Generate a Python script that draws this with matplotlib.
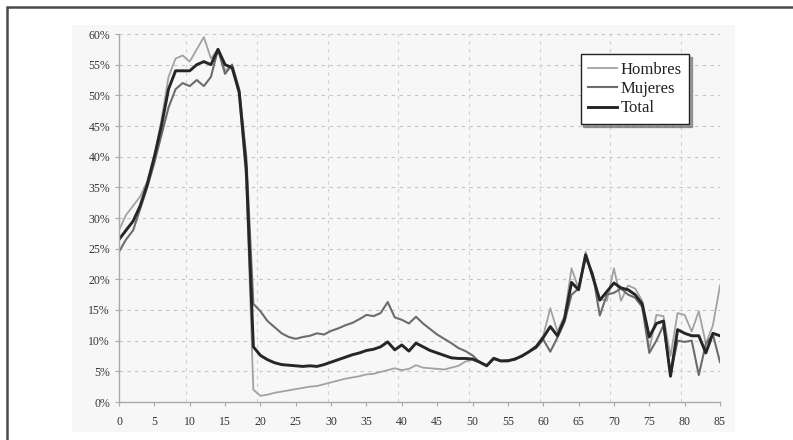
#!/usr/bin/env python3
"""Share by age, Hombres / Mujeres / Total, 0-85 years."""

import matplotlib
import numpy as np

matplotlib.use("Agg")
import matplotlib.pyplot as plt
from matplotlib.patches import Rectangle
from matplotlib.ticker import FuncFormatter, MultipleLocator

ages = list(range(0, 86))

hombres = [
    28.0, 30.5, 32.0, 33.5, 36.0, 40.0, 46.0, 53.0, 56.0, 56.5,
    55.5, 57.5, 59.5, 56.0, 57.5, 54.0, 55.0, 50.0, 36.0, 2.0,
    1.0, 1.2, 1.5, 1.7, 1.9, 2.1, 2.3, 2.5, 2.6, 2.9,
    3.2, 3.5, 3.8, 4.0, 4.2, 4.5, 4.6, 4.9, 5.2, 5.5,
    5.2, 5.4, 6.0, 5.6, 5.5, 5.4, 5.3, 5.6, 5.9, 6.6,
    6.9, 6.6, 6.0, 7.0, 6.6, 6.8, 7.1, 7.4, 8.3, 9.2,
    10.8, 15.3, 11.5, 14.0, 21.8, 18.5, 24.5, 20.0, 16.8, 16.5,
    21.8, 16.5, 19.0, 18.5, 16.5, 8.5, 14.2, 14.0, 7.5, 14.5,
    14.2, 11.5, 14.8, 9.5, 12.5, 19.0,
]

mujeres = [
    24.5, 26.5, 28.0, 31.5, 35.0, 39.0, 43.5, 48.0, 51.0, 52.0,
    51.5, 52.5, 51.5, 53.0, 57.5, 53.5, 55.0, 51.0, 40.0, 16.0,
    14.8, 13.2, 12.2, 11.2, 10.6, 10.3, 10.6, 10.8, 11.2, 11.0,
    11.6, 12.0, 12.5, 12.9, 13.5, 14.2, 14.0, 14.5, 16.3, 13.8,
    13.4, 12.8, 13.9, 12.8, 11.9, 11.0, 10.3, 9.6, 8.8, 8.3,
    7.6, 6.5, 6.0, 7.2, 6.7, 6.8, 6.9, 7.6, 8.2, 8.8,
    10.2, 8.2, 10.5, 13.0, 17.5, 18.5, 23.5, 21.0, 14.1, 17.5,
    17.8, 18.5, 17.5, 17.0, 15.5, 8.0, 10.0, 12.5, 4.5, 10.0,
    9.8, 10.0, 4.4, 9.5, 11.0, 6.5,
]

total = [
    26.5, 28.0, 29.5, 32.0, 35.5, 40.0, 45.0, 51.0, 54.0, 54.0,
    54.0, 55.0, 55.5, 55.0, 57.5, 55.0, 54.5, 50.5, 38.0, 9.0,
    7.6, 6.9, 6.4, 6.1, 6.0, 5.9, 5.8, 5.9, 5.8, 6.1,
    6.5, 6.9, 7.3, 7.7, 8.0, 8.4, 8.6, 9.0, 9.8, 8.5,
    9.3, 8.3, 9.6, 9.0, 8.4, 8.0, 7.6, 7.2, 7.1, 7.1,
    7.0, 6.5, 5.9, 7.1, 6.7, 6.7, 7.0, 7.5, 8.2, 9.0,
    10.5, 12.3, 10.8, 13.5, 19.5, 18.3, 24.0, 20.5, 16.6, 18.0,
    19.4, 18.6, 18.3, 17.5, 16.0, 10.6, 12.8, 13.2, 4.2, 11.8,
    11.2, 10.8, 10.8, 8.0, 11.2, 10.8,
]

series_names = ["Hombres", "Mujeres", "Total"]


def main() -> None:
    plt.rcParams["font.family"] = ["Liberation Serif", "DejaVu Serif"]

    fig = plt.figure(figsize=(7.93, 4.40), dpi=100)
    fig.patch.set_facecolor("white")

    # faint grey chart area and the dark frame of the scan
    fig.add_artist(Rectangle((72 / 793, 8 / 440), (735 - 72) / 793, (415 - 8) / 440,
                             transform=fig.transFigure, facecolor="#f7f7f7",
                             edgecolor="none", zorder=-5))
    fig.add_artist(Rectangle((7 / 793, -0.2), 1.2, (433 / 440) + 0.2,
                             transform=fig.transFigure, fill=False,
                             edgecolor="#4a4a4a", linewidth=1.8, zorder=10))

    ax = fig.add_axes([119 / 793, 38 / 440, (720 - 119) / 793, (406 - 38) / 440])
    ax.set_facecolor("none")

    x = np.array(ages)
    styles = [
        ("#a2a2a2", 1.3),
        ("#6c6c6c", 1.5),
        ("#262626", 2.1),
    ]
    for name, vals, (col, lw) in zip(series_names, [hombres, mujeres, total], styles):
        ax.plot(x, np.array(vals) / 100.0, color=col, linewidth=lw, label=name,
                solid_joinstyle="round")

    ax.set_xlim(0, 85)
    ax.set_ylim(0, 0.60)
    ax.xaxis.set_major_locator(MultipleLocator(5))
    ax.yaxis.set_major_locator(MultipleLocator(0.05))
    ax.yaxis.set_major_formatter(FuncFormatter(lambda v, _: f"{round(v * 100)}%"))

    for yv in np.arange(0.05, 0.601, 0.05):
        ax.axhline(yv, color="#c4c4c4", linewidth=0.8, linestyle=(0, (3, 4)), zorder=0)
    for xv in np.arange(9.5, 85, 10):
        ax.axvline(xv, color="#d0d0d0", linewidth=0.8, linestyle=(0, (3, 4)), zorder=0)

    for side in ["top", "right"]:
        ax.spines[side].set_visible(False)
    for side in ["left", "bottom"]:
        ax.spines[side].set_color("#a8a8a8")
        ax.spines[side].set_linewidth(1.0)
    ax.tick_params(axis="both", colors="#a8a8a8", labelcolor="#333333",
                   length=3, labelsize=8.5)
    ax.tick_params(axis="x", pad=7)

    leg = ax.legend(loc="upper left", bbox_to_anchor=(0.768, 0.945), fontsize=12,
                    frameon=True, fancybox=False, shadow=True, borderpad=0.45,
                    handlelength=1.75, handletextpad=0.2, labelspacing=0.2,
                    borderaxespad=0.0)
    leg.get_frame().set_edgecolor("#222222")
    leg.get_frame().set_linewidth(1.0)
    for t in leg.get_texts():
        t.set_color("#222222")

    fig.savefig("out.png", dpi=100)
    plt.close(fig)


if __name__ == "__main__":
    main()
